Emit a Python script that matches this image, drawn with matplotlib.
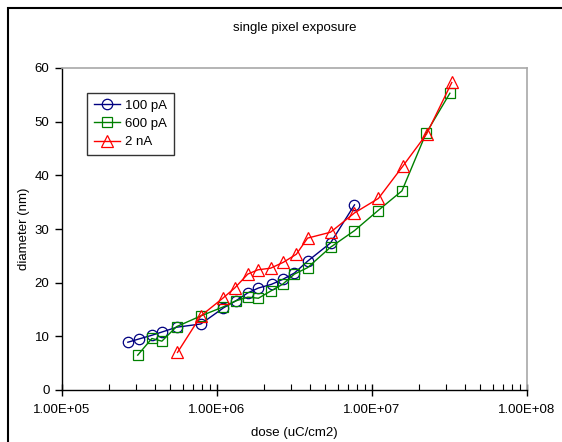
import matplotlib
matplotlib.use("Agg")
import matplotlib.pyplot as plt
from matplotlib.patches import Rectangle
from matplotlib.ticker import LogLocator, NullFormatter, FixedLocator

plt.rcParams['font.family'] = ['Liberation Sans', 'DejaVu Sans']

# 100 pA
dose_100pA = [2.66e5, 3.13e5, 3.80e5, 4.41e5, 5.50e5, 7.86e5, 1.10e6, 1.32e6,
              1.58e6, 1.85e6, 2.25e6, 2.65e6, 3.16e6, 3.84e6, 5.40e6, 7.71e6]
diam_100pA = [8.9, 9.5, 10.2, 10.8, 11.7, 12.3, 15.3, 16.6,
              18.1, 19.0, 19.7, 20.6, 21.8, 24.0, 27.4, 34.5]
# 600 pA
dose_600pA = [3.08e5, 3.80e5, 4.41e5, 5.48e5, 7.86e5, 1.10e6, 1.32e6, 1.58e6,
              1.85e6, 2.24e6, 2.65e6, 3.16e6, 3.84e6, 5.40e6, 7.71e6, 1.09e7,
              1.56e7, 2.23e7, 3.18e7]
diam_600pA = [6.5, 9.6, 9.1, 11.8, 13.8, 15.5, 16.6, 17.3,
              17.1, 18.5, 19.7, 21.6, 22.8, 26.6, 29.7, 33.4,
              37.1, 47.8, 55.3]
# 2 nA
dose_2nA = [5.56e5, 7.86e5, 1.09e6, 1.30e6, 1.58e6, 1.84e6, 2.22e6, 2.68e6,
            3.25e6, 3.84e6, 5.40e6, 7.71e6, 1.10e7, 1.58e7, 2.25e7, 3.27e7]
diam_2nA = [7.0, 13.8, 17.1, 19.0, 21.6, 22.4, 22.7, 23.8,
            25.3, 28.3, 29.4, 33.0, 35.7, 41.7, 47.7, 57.3]

labels = ['100 pA', '600 pA', '2 nA']
x_ticks = [1e5, 1e6, 1e7, 1e8]
x_ticklabels = ['1.00E+05', '1.00E+06', '1.00E+07', '1.00E+08']
y_ticks = [0, 10, 20, 30, 40, 50, 60]

fig = plt.figure(figsize=(5.62, 4.42), dpi=100)
ax = fig.add_axes([62/562, 52/442, 465/562, 322/442])

fs = 9.5
ms = 7.5
mew = 0.9
ax.plot(dose_100pA, diam_100pA, color='#000080', lw=1.0, marker='o', ms=ms,
        mfc='none', mec='#000080', mew=mew, label=labels[0])
ax.plot(dose_600pA, diam_600pA, color='#008000', lw=1.0, marker='s', ms=ms,
        mfc='none', mec='#008000', mew=mew, label=labels[1])
ax.plot(dose_2nA, diam_2nA, color='#FF0000', lw=1.0, marker='^', ms=ms+0.5,
        mfc='none', mec='#FF0000', mew=mew, label=labels[2])

ax.set_xscale('log')
ax.set_xlim(1e5, 1e8)
ax.set_ylim(0, 60)
ax.xaxis.set_major_locator(FixedLocator(x_ticks))
ax.set_xticklabels(x_ticklabels)
ax.xaxis.set_minor_locator(LogLocator(base=10, subs=range(2, 10)))
ax.xaxis.set_minor_formatter(NullFormatter())
ax.set_yticks(y_ticks)

ax.tick_params(axis='x', which='major', direction='inout', length=8, width=1,
               labelsize=fs, pad=6, colors='black')
ax.tick_params(axis='x', which='minor', direction='in', length=4, width=0.8)
ax.tick_params(axis='y', which='major', direction='out', length=5, width=1,
               labelsize=fs, pad=4)

for side in ['left', 'bottom']:
    ax.spines[side].set_color('black')
    ax.spines[side].set_linewidth(1.0)
for side in ['top', 'right']:
    ax.spines[side].set_color('#a8a8a8')
    ax.spines[side].set_linewidth(1.2)

ax.set_xlabel('dose (uC/cm2)', fontsize=fs, labelpad=8)
ax.set_ylabel('diameter (nm)', fontsize=fs, labelpad=3.5)

fig.text(295/562, 1 - 28/442, 'single pixel exposure', ha='center', va='center',
         fontsize=fs)

leg = ax.legend(loc='upper left', bbox_to_anchor=(25/465, 297/322), borderaxespad=0,
                fontsize=fs, frameon=True, fancybox=False, handlelength=2.0,
                labelspacing=0.45, borderpad=0.5, handletextpad=0.4)
leg.get_frame().set_edgecolor('black')
leg.get_frame().set_linewidth(1.0)

fig.patches.append(Rectangle((8/562, -0.1), 1.2, 0.1 + 1 - 8/442,
                             transform=fig.transFigure, fill=False,
                             edgecolor='black', linewidth=1.5))

fig.savefig('out.png', dpi=100)
